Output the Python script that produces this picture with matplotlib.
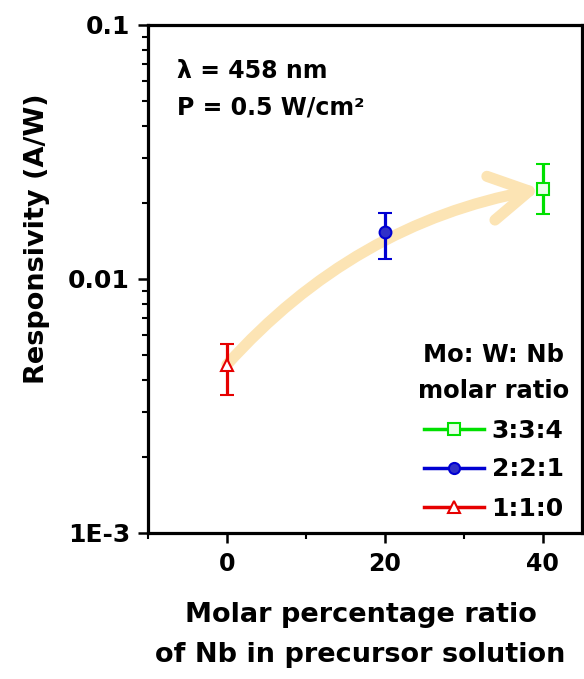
import matplotlib
matplotlib.use("Agg")
import matplotlib.pyplot as plt
from matplotlib.lines import Line2D
from matplotlib.patches import FancyArrowPatch
from matplotlib.ticker import FixedLocator, FixedFormatter, LogLocator, NullFormatter, MultipleLocator

# values
nb_percent = [0, 20, 40]
responsivity = [0.0046, 0.0153, 0.0226]
err_low = [0.0011, 0.0033, 0.0046]
err_high = [0.00095, 0.0029, 0.0058]
ratio_labels = ["1:1:0", "2:2:1", "3:3:4"]

colors = ["#e60000", "#0000d2", "#00e000"]
markers = ["^", "o", "s"]
faces = ["white", "#3030c8", "#eaffea"]
msizes = [9, 8.5, 8.5]

plt.rcParams["font.family"] = ["DejaVu Sans"]
plt.rcParams["font.weight"] = "bold"

fig = plt.figure(figsize=(5.84, 6.79), dpi=100)
ax = fig.add_axes([148 / 584, 146 / 679, 434 / 584, 508 / 679])
ax.set_yscale("log")
ax.set_xlim(-10, 45)
ax.set_ylim(1e-3, 0.1)

# pale trend arrow behind the points
arrow = FancyArrowPatch(
    (nb_percent[0], responsivity[0]),
    (nb_percent[-1] - 0.3, responsivity[-1]),
    connectionstyle="arc3,rad=-0.17",
    arrowstyle="->,head_length=1.4,head_width=0.8",
    mutation_scale=20,
    lw=8,
    color="#fce4b4",
    capstyle="round",
    joinstyle="round",
    shrinkA=0,
    shrinkB=0,
    zorder=1,
)
ax.add_patch(arrow)

for i in range(len(nb_percent)):
    ax.errorbar(
        nb_percent[i], responsivity[i],
        yerr=[[err_low[i]], [err_high[i]]],
        fmt=markers[i], color=colors[i], mfc=faces[i], mec=colors[i],
        ms=msizes[i], mew=1.5, elinewidth=2.3, capsize=5.2, capthick=2.4, zorder=3,
    )

ax.yaxis.set_major_locator(FixedLocator([1e-3, 1e-2, 1e-1]))
ax.yaxis.set_major_formatter(FixedFormatter(["1E-3", "0.01", "0.1"]))
ax.yaxis.set_minor_locator(LogLocator(base=10, subs=range(2, 10)))
ax.yaxis.set_minor_formatter(NullFormatter())
ax.xaxis.set_major_locator(FixedLocator([0, 20, 40]))
ax.xaxis.set_minor_locator(MultipleLocator(10))

ax.tick_params(which="major", direction="out", length=7, width=1.8, pad=6)
ax.tick_params(which="minor", direction="out", length=4, width=1.5)
ax.tick_params(axis="y", which="major", labelsize=18)
ax.tick_params(axis="x", which="major", labelsize=17, pad=7)
for s in ax.spines.values():
    s.set_linewidth(2.3)

ax.set_ylabel("Responsivity (A/W)", fontsize=19.5, fontweight="bold")
ax.yaxis.set_label_coords(-0.225, 0.58)
ax.set_xlabel("Molar percentage ratio\nof Nb in precursor solution",
              fontsize=19.5, fontweight="bold", linespacing=1.7)
ax.xaxis.set_label_coords(0.49, -0.135)
ax.xaxis.label.set_verticalalignment("top")

ax.text(0.067, 0.896, "λ = 458 nm", transform=ax.transAxes, fontsize=17,
        fontweight="bold", va="baseline")
ax.text(0.067, 0.823, "P = 0.5 W/cm²", transform=ax.transAxes, fontsize=17,
        fontweight="bold", va="baseline")

handles = []
for i in reversed(range(len(nb_percent))):
    handles.append(Line2D([], [], color=colors[i], lw=2.5, marker=markers[i],
                          mfc=faces[i], mec=colors[i], ms=msizes[i] - 0.5, mew=1.5))
leg = ax.legend(
    handles, list(reversed(ratio_labels)),
    title="Mo: W: Nb\nmolar ratio",
    loc="lower right", bbox_to_anchor=(1.0, 0.0),
    frameon=False, fontsize=18, handlelength=2.4, handletextpad=0.3,
    labelspacing=0.6, borderaxespad=0, borderpad=0.5,
    title_fontproperties={"size": 17.5, "weight": "bold"},
)
leg.get_title().set_multialignment("center")
leg.get_title().set_linespacing(1.65)

fig.savefig("out.png", dpi=100)
